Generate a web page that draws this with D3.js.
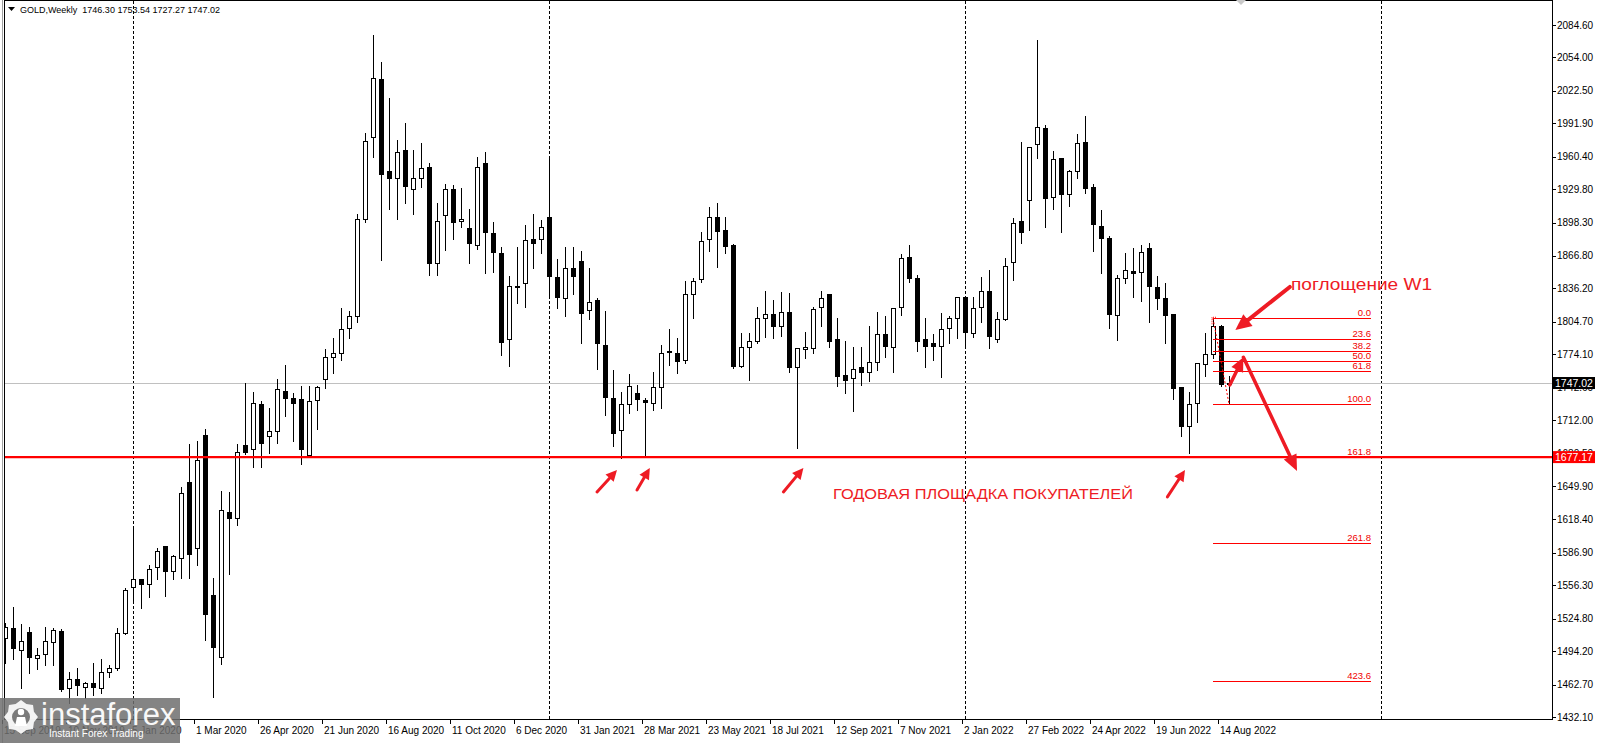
<!DOCTYPE html>
<html><head><meta charset="utf-8">
<script src="https://cdn.jsdelivr.net/npm/d3@7"></script>
<style>
body{margin:0;background:#fff;overflow:hidden}
svg{display:block}
text{font-family:"Liberation Sans",Arial,sans-serif}
</style>
</head><body>
<svg id="chart" width="1597" height="743"></svg>
<script>
// ---------------- DATA ----------------
const firstWeek = "2019-09-15";   // first weekly bar (MT4 weeks start on Sunday)
const symbolTitle = "GOLD,Weekly";
const opens = [
1506.3,1515.7,1495.3,1512.5,1487.4,1491.5,1503.1,1512.9,1459.2,1467.6,
1460.7,1463.8,1459.2,1474.8,1478.0,1511.0,1554.4,1561.9,1557.2,1573.8,
1593.3,1570.1,1581.7,1653.3,1591.0,1698.0,1546.8,1489.0,1625.0,1620.0,
1689.0,1684.5,1727.0,1697.4,1702.0,1739.5,1733.2,1731.9,1679.0,1731.0,
1750.5,1771.8,1775.0,1798.6,1810.0,1901.7,1979.3,2033.3,1947.2,1940.0,
1966.8,1929.7,1940.0,1950.4,1859.9,1905.0,1929.6,1899.5,1892.8,1876.9,
1954.1,1888.2,1869.3,1788.2,1838.8,1841.1,1882.5,1882.5,1903.2,1847.2,
1826.9,1855.2,1862.4,1815.9,1825.3,1782.9,1732.6,1702.7,1726.9,1737.3,
1731.0,1727.9,1743.6,1777.5,1775.0,1768.7,1831.0,1844.8,1882.5,1903.3,
1891.3,1877.1,1763.4,1780.7,1787.0,1808.1,1812.1,1801.1,1813.7,1762.4,
1778.8,1779.8,1818.3,1830.6,1788.2,1754.6,1751.5,1761.8,1757.1,1767.1,
1793.3,1780.7,1818.4,1865.6,1845.8,1788.2,1784.5,1782.3,1799.2,1808.1,
1828.4,1794.5,1818.4,1834.1,1788.2,1807.1,1860.8,1900.0,1919.6,1972.4,
1987.2,1922.1,1958.9,1925.0,1946.9,1974.0,1931.5,1895.3,1883.4,1811.2,
1845.8,1852.6,1851.4,1874.0,1837.3,1826.9,1812.1,1742.9,1706.8,1727.9,
1764.7,1774.4,1801.1,1746.30];
const highs = [
1521.0,1535.5,1519.5,1516.7,1497.4,1517.3,1516.3,1515.4,1474.8,1478.0,
1465.4,1483.3,1486.5,1481.1,1515.7,1553.5,1611.0,1562.5,1575.4,1591.0,
1593.5,1584.9,1649.3,1689.5,1692.0,1704.0,1562.9,1645.0,1644.0,1689.5,
1747.0,1738.9,1730.0,1723.5,1750.8,1764.0,1737.3,1744.2,1744.0,1744.0,
1779.0,1789.0,1817.5,1815.0,1906.0,1982.5,2075.2,2049.4,2015.5,1976.0,
1992.0,1966.8,1973.0,1954.8,1917.0,1934.4,1933.8,1931.2,1910.8,1959.8,
1965.2,1899.0,1875.5,1848.0,1875.0,1896.0,1906.4,1900.7,1960.4,1864.0,
1875.0,1875.0,1871.5,1855.2,1826.9,1815.2,1759.3,1738.9,1755.2,1745.2,
1732.6,1757.7,1782.9,1797.7,1789.0,1843.3,1845.7,1889.7,1912.7,1916.5,
1903.3,1878.0,1794.5,1794.5,1819.0,1833.8,1825.3,1832.6,1831.6,1779.8,
1794.8,1819.0,1833.8,1830.6,1808.1,1786.7,1781.3,1781.3,1800.8,1814.3,
1810.2,1817.5,1868.7,1877.2,1848.9,1808.1,1793.3,1813.3,1810.2,1828.0,
1829.0,1828.0,1847.3,1853.6,1814.3,1865.2,1902.2,1973.9,1970.0,2070.5,
1990.3,1966.1,1959.0,1947.5,1981.5,1998.8,1934.7,1910.2,1885.6,1848.9,
1869.9,1874.0,1877.2,1878.8,1848.0,1841.0,1812.1,1743.6,1738.9,1766.2,
1794.5,1808.0,1801.5,1753.54];
const lows = [
1483.0,1486.5,1459.2,1473.3,1477.4,1480.8,1481.1,1456.9,1445.0,1453.0,
1450.0,1452.8,1454.4,1470.1,1476.4,1510.1,1540.3,1535.2,1545.5,1562.2,
1546.5,1561.9,1562.9,1562.9,1575.4,1504.7,1450.5,1482.0,1567.0,1613.0,
1680.0,1668.0,1668.0,1681.3,1690.8,1715.9,1692.6,1670.4,1677.6,1703.4,
1742.0,1756.8,1768.7,1789.8,1804.9,1899.0,1960.4,1863.0,1910.8,1901.7,
1916.5,1906.0,1932.1,1848.9,1848.9,1872.5,1882.8,1893.8,1859.9,1873.1,
1850.5,1852.0,1773.5,1763.4,1822.2,1819.0,1855.2,1869.3,1828.4,1817.5,
1810.2,1831.0,1784.5,1807.0,1759.9,1716.9,1687.6,1676.0,1719.0,1721.6,
1677.6,1721.6,1723.2,1764.0,1756.1,1765.6,1808.1,1842.6,1871.8,1856.1,
1869.3,1760.9,1762.0,1749.8,1784.5,1790.7,1789.8,1791.7,1757.7,1685.4,
1770.3,1775.6,1800.8,1781.3,1744.5,1737.3,1720.9,1745.2,1749.2,1759.3,
1771.3,1757.7,1811.2,1842.6,1777.5,1761.8,1768.7,1753.0,1784.5,1789.0,
1782.9,1790.1,1804.9,1779.8,1786.0,1806.5,1844.2,1878.8,1891.3,1958.9,
1894.4,1910.8,1889.7,1913.9,1940.0,1925.9,1871.8,1850.5,1798.6,1787.6,
1841.0,1827.8,1824.6,1804.9,1816.5,1784.5,1731.7,1697.1,1680.7,1710.5,
1753.9,1770.3,1744.2,1727.27];
const closes = [
1516.7,1496.9,1504.0,1488.3,1490.3,1504.0,1514.0,1458.2,1467.6,1462.3,
1463.8,1460.0,1474.8,1478.0,1511.0,1551.9,1561.9,1557.2,1571.4,1588.5,
1570.1,1583.9,1643.0,1585.5,1674.4,1528.9,1497.8,1627.0,1620.0,1682.0,
1682.0,1727.9,1690.7,1701.8,1741.0,1733.2,1728.5,1684.7,1730.0,1742.9,
1771.3,1775.0,1797.7,1810.0,1901.4,1975.0,2034.4,1943.8,1940.0,1964.5,
1933.2,1940.0,1949.5,1860.5,1899.6,1929.6,1898.4,1901.3,1878.8,1950.4,
1889.1,1870.3,1786.0,1838.5,1838.6,1881.9,1878.8,1893.8,1848.2,1827.8,
1855.2,1847.9,1813.3,1823.7,1784.5,1734.1,1699.6,1726.9,1744.5,1731.7,
1728.9,1743.6,1775.6,1776.6,1768.0,1830.6,1843.3,1881.2,1903.3,1890.7,
1876.5,1763.4,1780.7,1787.0,1808.1,1811.8,1801.1,1813.7,1762.4,1779.8,
1780.7,1816.8,1826.9,1787.0,1753.9,1749.9,1759.9,1757.1,1767.1,1793.3,
1782.3,1817.5,1864.6,1845.8,1787.0,1782.3,1782.3,1797.7,1808.1,1827.8,
1795.4,1817.5,1834.1,1791.4,1807.1,1857.6,1897.5,1889.1,1969.9,1988.1,
1921.2,1958.0,1925.0,1947.2,1973.0,1931.2,1896.6,1883.4,1811.8,1845.8,
1853.6,1850.5,1870.8,1838.8,1826.9,1811.2,1742.0,1706.8,1727.2,1766.2,
1774.4,1801.1,1746.1,1747.02];

const priceTickLabels = ["2084.60","2054.00","2022.50","1991.90","1960.40","1929.80","1898.30",
  "1866.80","1836.20","1804.70","1774.10","1742.60","1712.00","1680.50","1649.90","1618.40",
  "1586.90","1556.30","1524.80","1494.20","1462.70","1432.10"];
const dateLabelEvery = 8;                 // bars between time-axis labels
const futureBars = 24;                    // empty space to the right
const lastPrice = 1747.02;
const supportPrice = 1677.17;
const fibHigh = 1808.05, fibLow = 1727.27;
const fibLevels = [0.0, 23.6, 38.2, 50.0, 61.8, 100.0, 161.8, 261.8, 423.6];
// annotation arrows: [barFrom, priceFrom, barTo, priceTo]
const lowArrows = [[74.0,1644.3,76.5,1665.0],[79.0,1646.2,80.6,1666.9],[97.3,1644.3,99.8,1666.9],[145.3,1639.6,147.5,1665.0]];
const engulfArrow = [160.6,1837.6,153.8,1797.0];
const upArrow = [153.1,1745.2,154.8,1771.3];
const downArrow = [154.8,1771.3,161.5,1664.1];
const engulfText = "поглощение W1";
const zoneText = "ГОДОВАЯ ПЛОЩАДКА ПОКУПАТЕЛЕЙ";

// ---------------- CHART ----------------
const svg = d3.select("#chart");
const W = 1597, H = 743;
const plot = {left:4, right:1552, top:1, bottom:720};
const nBars = closes.length;
const x = d3.scaleLinear().domain([0, nBars-1]).range([5, 1229]);
const y = d3.scaleLinear().domain([1432.1, 2084.6]).range([717, 25]);
const start = new Date(firstWeek + "T00:00:00Z");
const dateOf = k => new Date(start.getTime() + k*7*86400000);
const fmt = d3.utcFormat("%-d %b %Y");
const R = v => Math.round(v);

const bars = d3.range(nBars).map(i => ({i, o:opens[i], h:highs[i], l:lows[i], c:closes[i]}));

svg.append("rect").attr("width",W).attr("height",H).attr("fill","#fff");
svg.append("defs").append("clipPath").attr("id","pc").append("rect")
  .attr("x",plot.left+1).attr("y",plot.top).attr("width",plot.right-plot.left-1).attr("height",plot.bottom-plot.top);

const g = svg.append("g").attr("clip-path","url(#pc)");

// year separators
const sepIdx = d3.range(-10, nBars+futureBars).filter(k => dateOf(k).getUTCFullYear() !== dateOf(k-1).getUTCFullYear());
g.selectAll("line.sep").data(sepIdx).join("line").attr("class","sep")
  .attr("x1",k=>R(x(k))+0.5).attr("x2",k=>R(x(k))+0.5).attr("y1",plot.top).attr("y2",plot.bottom)
  .attr("stroke","#000").attr("stroke-width",1).attr("stroke-dasharray","3,2");

// last price line
g.append("line").attr("x1",plot.left).attr("x2",plot.right).attr("y1",R(y(lastPrice))+0.5).attr("y2",R(y(lastPrice))+0.5)
  .attr("stroke","#c0c0c0").attr("stroke-width",1);

// candles
const cg = g.append("g");
cg.selectAll("line.wick").data(bars).join("line").attr("class","wick")
  .attr("x1",d=>R(x(d.i))+0.5).attr("x2",d=>R(x(d.i))+0.5)
  .attr("y1",d=>R(y(d.h))).attr("y2",d=>R(y(d.l))+1)
  .attr("stroke","#000").attr("stroke-width",1);
cg.selectAll("rect.body").data(bars).join("rect").attr("class","body")
  .each(function(d){
    const cx = R(x(d.i));
    const top = R(y(Math.max(d.o,d.c))), bot = R(y(Math.min(d.o,d.c)));
    const s = d3.select(this);
    if (d.c >= d.o && bot - top >= 2) {
      s.attr("x",cx-2+0.5).attr("y",top+0.5).attr("width",4).attr("height",bot-top)
       .attr("fill","#fff").attr("stroke","#000").attr("stroke-width",1);
    } else {
      s.attr("x",cx-2).attr("y",top).attr("width",5).attr("height",Math.max(bot-top+1, d.c>=d.o?1:2))
       .attr("fill","#000");
    }
  });

// support line
g.append("line").attr("x1",plot.left).attr("x2",plot.right).attr("y1",y(supportPrice)).attr("y2",y(supportPrice))
  .attr("stroke","#ff0000").attr("stroke-width",2.2);

// Fibonacci
const fibX1 = x(nBars-3) , fibX2 = x(nBars-1+17.75);
const fibPrice = r => fibHigh - r/100*(fibHigh - fibLow);
const fg = g.append("g");
fg.selectAll("line.fib").data(fibLevels).join("line").attr("class","fib")
  .attr("x1",fibX1).attr("x2",fibX2)
  .attr("y1",r=>R(y(fibPrice(r)))+0.5).attr("y2",r=>R(y(fibPrice(r)))+0.5)
  .attr("stroke","#ff0000").attr("stroke-width",1);
fg.selectAll("text.fib").data(fibLevels).join("text").attr("class","fib")
  .attr("x",fibX2).attr("y",r=>R(y(fibPrice(r)))-2)
  .attr("text-anchor","end").attr("font-size",9.5).attr("fill","#f00000")
  .text(r=>r.toFixed(1));
fg.append("line").attr("x1",fibX1).attr("y1",y(fibHigh)).attr("x2",x(nBars-1)).attr("y2",y(fibLow))
  .attr("stroke","#ff0000").attr("stroke-width",1).attr("stroke-dasharray","2,2");
fg.append("path").attr("d",`M${fibX1-1},${y(fibHigh)+6}V${y(fibHigh)-1}H${fibX1+4}`)
  .attr("fill","none").attr("stroke","#ff0000").attr("stroke-dasharray","1,1");

// frame and axes
svg.append("line").attr("x1",2.5).attr("x2",2.5).attr("y1",0).attr("y2",H).attr("stroke","#a0a0a0");
svg.append("rect").attr("x",plot.left+0.5).attr("y",plot.top-0.5).attr("width",plot.right-plot.left).attr("height",plot.bottom-plot.top)
  .attr("fill","none").attr("stroke","#000").attr("stroke-width",1);

// price axis
const yTicks = priceTickLabels.map(s => +s);
const ax = svg.append("g");
ax.selectAll("line").data(yTicks).join("line")
  .attr("x1",plot.right).attr("x2",plot.right+4).attr("y1",v=>R(y(v))+0.5).attr("y2",v=>R(y(v))+0.5).attr("stroke","#000");
ax.selectAll("text").data(priceTickLabels).join("text")
  .attr("x",plot.right+5).attr("y",s=>y(+s)+3.5).attr("font-size",10).attr("fill","#000").text(s=>s);

// time axis
const dIdx = d3.range(0, nBars, dateLabelEvery);
const tx = svg.append("g");
tx.selectAll("line").data(dIdx).join("line")
  .attr("x1",k=>R(x(k))-2.5).attr("x2",k=>R(x(k))-2.5).attr("y1",plot.bottom).attr("y2",plot.bottom+4).attr("stroke","#000");
tx.selectAll("text").data(dIdx).join("text")
  .attr("x",k=>R(x(k))-1).attr("y",734).attr("font-size",10).attr("fill","#000").text(k=>fmt(dateOf(k)));

// price boxes
function priceBox(v, fill){
  const yy = y(v);
  svg.append("rect").attr("x",plot.right+1).attr("y",yy-6).attr("width",42).attr("height",12).attr("fill",fill);
  svg.append("text").attr("x",plot.right+3).attr("y",yy+4).attr("font-size",10.5).attr("fill","#fff").text(v.toFixed(2));
}
priceBox(lastPrice,"#000");
priceBox(supportPrice,"#ff0000");

// header
svg.append("path").attr("d","M8,7H15L11.5,11Z").attr("fill","#000");
svg.append("text").attr("x",20).attr("y",12.5).attr("font-size",9).attr("fill","#000")
  .text(`${symbolTitle}  ${opens[nBars-1].toFixed(2)} ${highs[nBars-1].toFixed(2)} ${lows[nBars-1].toFixed(2)} ${closes[nBars-1].toFixed(2)}`)
  .attr("xml:space","preserve").style("white-space","pre");
// shift marker
svg.append("path").attr("d",`M${x(nBars-1)+7},0l5,5l5,-5Z`).attr("fill","#c8c8c8");

// arrows
const AR = "#ee1b24";
function arrow(a, sw, hl, hw){
  const x1=x(a[0]), y1=y(a[1]), x2=x(a[2]), y2=y(a[3]);
  const dx=x2-x1, dy=y2-y1, L=Math.hypot(dx,dy), ux=dx/L, uy=dy/L;
  const bx=x2-ux*hl, by=y2-uy*hl;
  svg.append("line").attr("x1",x1).attr("y1",y1).attr("x2",bx+ux*2).attr("y2",by+uy*2)
    .attr("stroke",AR).attr("stroke-width",sw).attr("stroke-linecap","round");
  svg.append("path").attr("d",`M${x2},${y2}L${bx-uy*hw/2},${by+ux*hw/2}L${bx+uy*hw/2},${by-ux*hw/2}Z`).attr("fill",AR);
}
lowArrows.forEach(a=>arrow(a,3,11,11));
arrow(engulfArrow,4,16,15);
arrow(upArrow,3.5,14,13);
arrow(downArrow,3.5,16,14);

svg.append("text").attr("x",x(160.75)).attr("y",y(1839.5)+5.5).attr("font-size",16).attr("fill",AR)
  .attr("font-family","'DejaVu Sans',sans-serif").attr("textLength",141).attr("lengthAdjust","spacingAndGlyphs").text(engulfText);
svg.append("text").attr("x",x(103.5)).attr("y",y(1642.4)+5.5).attr("font-size",15).attr("fill",AR)
  .attr("font-family","'DejaVu Sans',sans-serif").attr("textLength",300).attr("lengthAdjust","spacingAndGlyphs").text(zoneText);

// watermark logo
const lg = svg.append("g");
lg.append("rect").attr("x",0).attr("y",698).attr("width",180).attr("height",45).attr("fill","#6e6e6e").attr("opacity",0.85);
const gear = d3.range(0,16).map(i=>{const a=i/16*2*Math.PI; const r = (i%2? 14: 17); return [21+r*Math.cos(a), 717+r*Math.sin(a)];});
lg.append("path").attr("d",d3.line().curve(d3.curveLinearClosed)(gear)).attr("fill","#fff").attr("opacity",0.9);
lg.append("circle").attr("cx",21).attr("cy",717).attr("r",9).attr("fill","#7a7a7a");
lg.append("circle").attr("cx",21).attr("cy",712).attr("r",3.2).attr("fill","#fff");
lg.append("path").attr("d","M15,726L17,717H25L27,726Z").attr("fill","#fff");
lg.append("text").attr("x",41).attr("y",725).attr("font-size",31).attr("fill","#fff").attr("opacity",0.95).text("instaforex");
lg.append("text").attr("x",49).attr("y",736.5).attr("font-size",10).attr("fill","#fff").text("Instant Forex Trading");
</script>
</body></html>
